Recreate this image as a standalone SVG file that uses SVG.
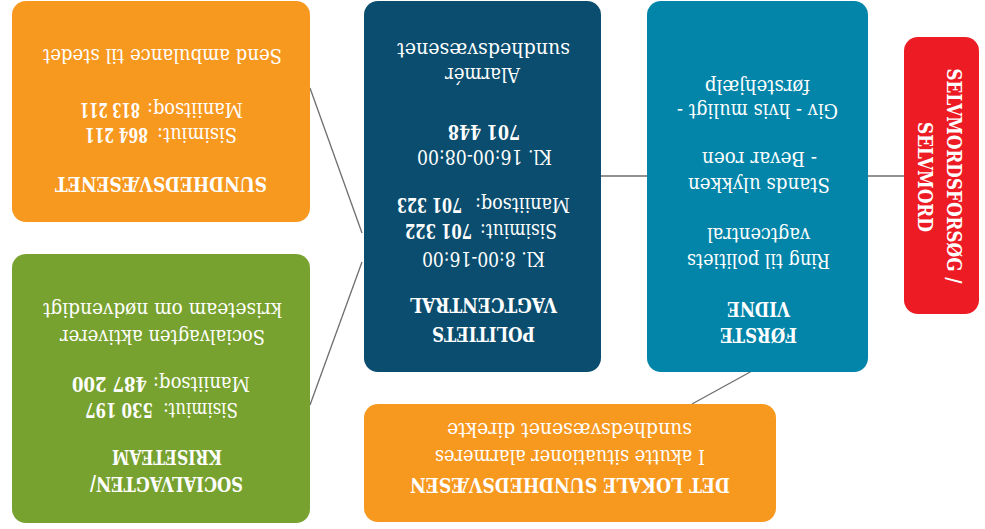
<svg xmlns="http://www.w3.org/2000/svg" width="985" height="529" viewBox="0 0 985 529">
<style>
.t{font-family:"DejaVu Serif","Liberation Serif",serif;fill:#fff}
.h{font-weight:bold;font-size:21px}
.b{font-size:20px}
.n{font-weight:bold;font-size:20px}
.c{stroke:#6d6e71;stroke-width:1.3;fill:none}
</style>
<rect width="985" height="529" fill="#fff"/>
<g transform="rotate(180 492.5 264.5)">
<g id="connectors" class="c">
<line x1="81" y1="353" x2="117" y2="353"/>
<line x1="338" y1="353" x2="384" y2="353"/>
<line x1="675" y1="441" x2="623" y2="296"/>
<line x1="675" y1="124" x2="623" y2="267"/>
<line x1="233" y1="158" x2="293" y2="125"/>
</g>
<g id="sundhedsvaesenet">
<rect x="675" y="307" width="298" height="221" rx="14" fill="#F7981F"/>
<text class="t h" x="718" y="352" textLength="212" lengthAdjust="spacingAndGlyphs">SUNDHEDSVÆSENET</text>
<text class="t b" x="748" y="401" textLength="80" lengthAdjust="spacingAndGlyphs">Sisimiut:</text>
<text class="t n" x="837" y="401" textLength="63" lengthAdjust="spacingAndGlyphs">864 211</text>
<text class="t b" x="742" y="426" textLength="96" lengthAdjust="spacingAndGlyphs">Maniitsoq:</text>
<text class="t n" x="845" y="426" textLength="60" lengthAdjust="spacingAndGlyphs">813 211</text>
<text class="t b" x="703" y="480" textLength="239" lengthAdjust="spacingAndGlyphs">Send ambulance til stedet</text>
</g>
<g id="socialvagten">
<rect x="675" y="6" width="298" height="269" rx="14" fill="#78A22F"/>
<text class="t h" x="742" y="52" textLength="153" lengthAdjust="spacingAndGlyphs">SOCIALVAGTEN/</text>
<text class="t h" x="763" y="79" textLength="110" lengthAdjust="spacingAndGlyphs">KRISETEAM</text>
<text class="t b" x="747" y="126" textLength="75" lengthAdjust="spacingAndGlyphs">Sisimiut:</text>
<text class="t n" x="832" y="126" textLength="68" lengthAdjust="spacingAndGlyphs">530 197</text>
<text class="t b" x="735" y="152" textLength="97" lengthAdjust="spacingAndGlyphs">Maniitsoq:</text>
<text class="t n" x="838" y="152" textLength="75" lengthAdjust="spacingAndGlyphs">487 200</text>
<text class="t b" x="720" y="199" textLength="205" lengthAdjust="spacingAndGlyphs">Socialvagten aktiverer</text>
<text class="t b" x="703" y="226" textLength="239" lengthAdjust="spacingAndGlyphs">kriseteam om nødvendigt</text>
</g>
<g id="politiets-vagtcentral">
<rect x="384" y="157" width="237" height="371" rx="14" fill="#0A4D6E"/>
<text class="t h" x="450" y="202" textLength="103" lengthAdjust="spacingAndGlyphs">POLITIETS</text>
<text class="t h" x="428" y="231" textLength="147" lengthAdjust="spacingAndGlyphs">VAGTCENTRAL</text>
<text class="t b" x="440" y="277" textLength="123" lengthAdjust="spacingAndGlyphs">Kl. 8:00-16:00</text>
<text class="t b" x="428" y="305" textLength="77" lengthAdjust="spacingAndGlyphs">Sisimiut:</text>
<text class="t n" x="513" y="305" textLength="67" lengthAdjust="spacingAndGlyphs">701 322</text>
<text class="t b" x="415" y="331" textLength="95" lengthAdjust="spacingAndGlyphs">Maniitsoq:</text>
<text class="t n" x="523" y="331" textLength="65" lengthAdjust="spacingAndGlyphs">701 323</text>
<text class="t b" x="433" y="379" textLength="135" lengthAdjust="spacingAndGlyphs">Kl. 16:00-08:00</text>
<text class="t n" x="465" y="404" textLength="72" lengthAdjust="spacingAndGlyphs">701 448</text>
<text class="t b" x="465" y="461" textLength="75" lengthAdjust="spacingAndGlyphs">Alarmér</text>
<text class="t b" x="415" y="486" textLength="173" lengthAdjust="spacingAndGlyphs">sundhedsvæsenet</text>
</g>
<g id="foerste-vidne">
<rect x="117" y="157" width="221" height="371" rx="14" fill="#0285A9"/>
<text class="t h" x="188" y="201" textLength="77" lengthAdjust="spacingAndGlyphs">FØRSTE</text>
<text class="t h" x="195" y="227" textLength="63" lengthAdjust="spacingAndGlyphs">VIDNE</text>
<text class="t b" x="155" y="275" textLength="143" lengthAdjust="spacingAndGlyphs">Ring til politiets</text>
<text class="t b" x="175" y="301" textLength="103" lengthAdjust="spacingAndGlyphs">vagtcentral</text>
<text class="t b" x="155" y="351" textLength="142" lengthAdjust="spacingAndGlyphs">Stands ulykken</text>
<text class="t b" x="168" y="377" textLength="115" lengthAdjust="spacingAndGlyphs">- Bevar roen</text>
<text class="t b" x="147" y="425" textLength="161" lengthAdjust="spacingAndGlyphs">Giv - hvis muligt -</text>
<text class="t b" x="175" y="449" textLength="105" lengthAdjust="spacingAndGlyphs">førstehjælp</text>
</g>
<g id="selvmord">
<rect x="6" y="215" width="75" height="277" rx="14" fill="#ED1C24"/>
<text class="t h" transform="translate(38 353) rotate(-90)" text-anchor="middle" textLength="215" lengthAdjust="spacingAndGlyphs">SELVMORDSFORSØG /</text>
<text class="t h" transform="translate(67 352) rotate(-90)" text-anchor="middle" textLength="110" lengthAdjust="spacingAndGlyphs">SELVMORD</text>
</g>
<g id="lokale-sundhedsvaesen">
<rect x="209" y="7" width="412" height="118" rx="14" fill="#F7981F"/>
<text class="t h" x="255" y="51" textLength="320" lengthAdjust="spacingAndGlyphs">DET LOKALE SUNDHEDSVÆSEN</text>
<text class="t b" x="280" y="79" textLength="270" lengthAdjust="spacingAndGlyphs">I akutte situationer alarmeres</text>
<text class="t b" x="293" y="106" textLength="245" lengthAdjust="spacingAndGlyphs">sundhedsvæsenet direkte</text>
</g>
</g>
</svg>
